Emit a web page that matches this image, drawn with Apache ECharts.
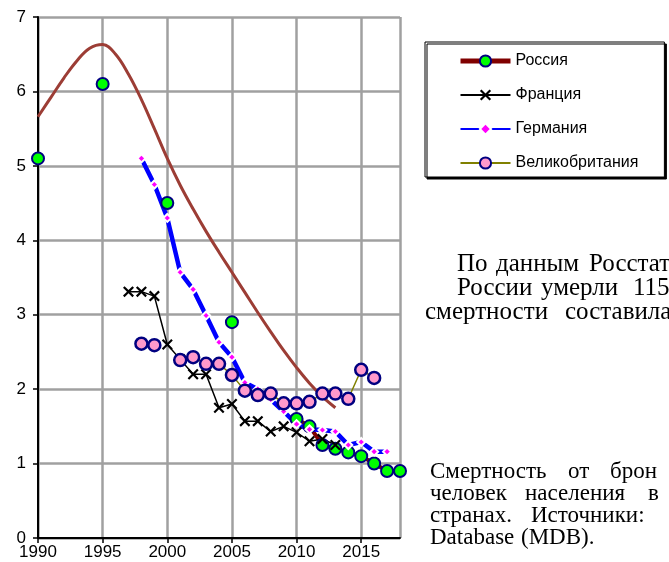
<!DOCTYPE html>
<html>
<head>
<meta charset="utf-8">
<script src="https://cdn.jsdelivr.net/npm/echarts@6/dist/echarts.min.js"></script>
<style>
  html, body { margin: 0; padding: 0; background: #fff; }
  #chart { width: 669px; height: 562px; }
</style>
</head>
<body>
<div id="chart"></div>
<script>
// годы по оси X
const years = [1990, 1991, 1992, 1993, 1994, 1995, 1996, 1997, 1998, 1999,
  2000, 2001, 2002, 2003, 2004, 2005, 2006, 2007, 2008, 2009,
  2010, 2011, 2012, 2013, 2014, 2015, 2016, 2017, 2018]

// смертность по странам (null - нет данных)
const russia = [5.1, null, null, null, null, 6.1, null, null, null, null,
  4.5, null, null, null, null, 2.9, null, null, null, null,
  1.6, 1.5, 1.25, 1.2, 1.15, 1.1, 1.0, 0.9, 0.9]

// линия тренда для России
const russiaTrend = [5.66, 5.92, 6.18, 6.41, 6.58, 6.63, 6.5, 6.23, 5.89, 5.5,
  5.1, 4.74, 4.42, 4.12, 3.84, 3.57, 3.3, 3.03, 2.77, 2.52,
  2.29, 2.08, 1.9, 1.75, null, null, null, null, null]

const france = [null, null, null, null, null, null, null, 3.31, 3.31, 3.25,
  2.6, 2.4, 2.2, 2.2, 1.75, 1.8, 1.57, 1.57, 1.43, 1.5,
  1.42, 1.3, 1.33, 1.25, null, null, null, null, null]

const germany = [null, null, null, null, null, null, null, null, 5.1, 4.75,
  4.3, 3.57, 3.34, 2.99, 2.63, 2.43, 2.09, 2.0, 1.86, 1.7,
  1.53, 1.46, 1.45, 1.43, 1.25, 1.29, 1.16, 1.16, null]

const uk = [null, null, null, null, null, null, null, null, 2.61, 2.59,
  null, 2.39, 2.43, 2.34, 2.34, 2.19, 1.98, 1.92, 1.94, 1.81,
  1.81, 1.83, 1.94, 1.94, 1.87, 2.26, 2.15, null, null]

// обрезанный текст документа справа (по словам, абзац выровнен по ширине)
const block1 = [['По', 'данным', 'Росстат'], ['России', 'умерли', '115'], ['смертности', 'составила']]
const block2 = [['Смертность', 'от', 'брон'], ['человек', 'населения', 'в'], ['странах.', 'Источники:'], ['Database', '(MDB).']]

// пары [год, значение]
const toPairs = (arr) => arr.map((v, i) => [years[i], v === null ? '-' : v])

const crossPath = 'path://M0,1.4L1.4,0L5,3.6L8.6,0L10,1.4L6.4,5L10,8.6L8.6,10L5,6.4L1.4,10L0,8.6L3.6,5Z'
const sans = '"Liberation Sans", Arial, sans-serif'
const serif = '"Liberation Serif", "Times New Roman", serif'

const chart = echarts.init(document.getElementById('chart'))

// раскладка слов по строкам
const wordX1 = [[457, 496, 589], [457, 541, 633], [425, 565]]
const wordX2 = [[430, 568, 610], [430, 525, 648], [430, 531], [430, 521]]
const graphics = []
block1.forEach((words, i) => {
  words.forEach((w, j) => {
    graphics.push({
      type: 'text', left: wordX1[i][j], top: 252 + i * 24,
      style: { text: w, font: '25px ' + serif, fill: '#000' }
    })
  })
})
block2.forEach((words, i) => {
  words.forEach((w, j) => {
    graphics.push({
      type: 'text', left: wordX2[i][j], top: 460 + i * 22.3,
      style: { text: w, font: '23px ' + serif, fill: '#000' }
    })
  })
})

const option = {
  animation: false,
  backgroundColor: '#fff',
  grid: { left: 38, right: 269, top: 17, bottom: 24 },
  legend: {
    data: [
      { name: 'Россия', lineStyle: { width: 5, color: '#800000' } },
      { name: 'Франция' },
      { name: 'Германия' },
      { name: 'Великобритания' }
    ],
    orient: 'vertical',
    left: 425,
    top: 42,
    itemWidth: 50,
    itemHeight: 14,
    itemGap: 18,
    padding: [11, 26, 6, 33],
    backgroundColor: '#fff',
    borderColor: '#000',
    borderWidth: 1,
    shadowColor: '#000',
    shadowOffsetX: 2,
    shadowOffsetY: 2,
    selectedMode: false,
    textStyle: { fontFamily: sans, fontSize: 16, color: '#000' }
  },
  xAxis: {
    type: 'value',
    min: 1990,
    max: 2018,
    interval: 5,
    axisLine: { lineStyle: { color: '#000', width: 2 } },
    axisTick: { length: 5, lineStyle: { color: '#000', width: 1.5 } },
    axisLabel: {
      color: '#000', fontSize: 17, fontFamily: sans, margin: 6,
      showMaxLabel: false,
      formatter: (v) => String(v)
    },
    splitLine: { show: true, lineStyle: { color: '#a0a0a0', width: 2.5 } }
  },
  yAxis: {
    type: 'value',
    min: 0,
    max: 7,
    interval: 1,
    axisLine: { show: true, lineStyle: { color: '#000', width: 2 } },
    axisTick: { show: true, length: 5, lineStyle: { color: '#000', width: 1.5 } },
    axisLabel: { color: '#000', fontSize: 17, fontFamily: sans, margin: 12 },
    splitLine: { show: true, lineStyle: { color: '#a0a0a0', width: 2.5 } }
  },
  graphic: graphics,
  series: [
    {
      name: 'Россия',
      type: 'line',
      data: toPairs(russia),
      symbol: 'circle',
      symbolSize: 12,
      itemStyle: { color: '#00ff00', borderColor: '#000080', borderWidth: 2 },
      lineStyle: { color: '#800000', width: 4 }
    },
    {
      name: 'Франция',
      type: 'line',
      data: toPairs(france),
      symbol: crossPath,
      symbolSize: 11,
      itemStyle: { color: '#000' },
      lineStyle: { color: '#000', width: 1.5 }
    },
    {
      name: 'Германия',
      type: 'line',
      data: toPairs(germany),
      symbol: 'diamond',
      symbolSize: 8,
      itemStyle: { color: '#ff00ff', borderColor: '#fff', borderWidth: 2 },
      lineStyle: { color: '#0000ff', width: 4.5 }
    },
    {
      name: 'Великобритания',
      type: 'line',
      data: toPairs(uk),
      symbol: 'circle',
      symbolSize: 12,
      itemStyle: { color: '#ff99cc', borderColor: '#000080', borderWidth: 2.5 },
      lineStyle: { color: '#808000', width: 1.5 }
    },
    {
      name: 'Тренд',
      type: 'line',
      data: toPairs(russiaTrend),
      smooth: 0.4,
      symbol: 'none',
      lineStyle: { color: '#9c3d35', width: 3 }
    }
  ]
}

chart.setOption(option)
</script>
</body>
</html>
